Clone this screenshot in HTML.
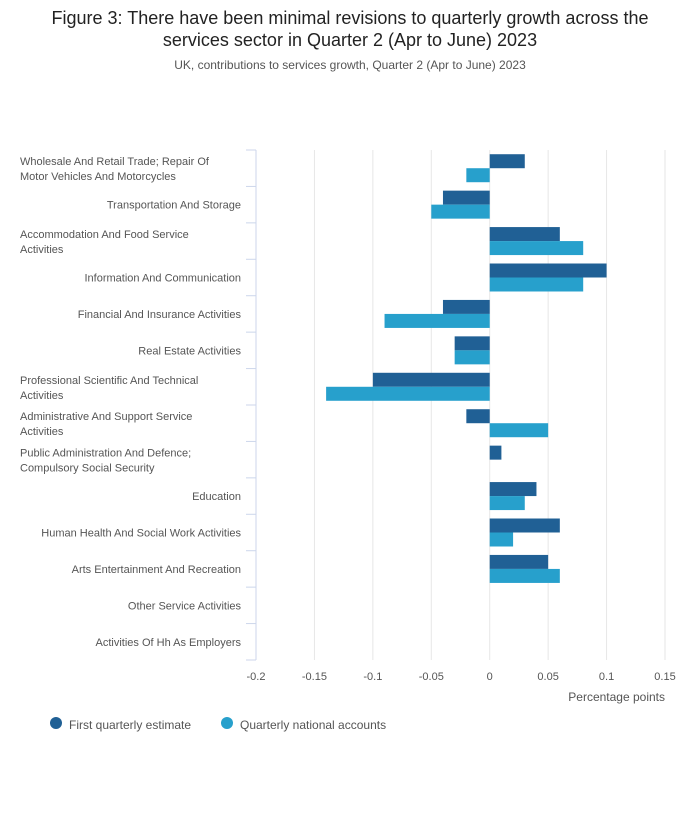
<!DOCTYPE html>
<html><head><meta charset="utf-8"><style>
body{margin:0;background:#fff;font-family:"Liberation Sans",sans-serif;}
</style></head><body>
<svg width="700" height="810" xmlns="http://www.w3.org/2000/svg" font-family="Liberation Sans, sans-serif">
<text x="350" y="24" text-anchor="middle" font-size="18" fill="#222">Figure 3: There have been minimal revisions to quarterly growth across the</text>
<text x="350" y="46" text-anchor="middle" font-size="18" fill="#222">services sector in Quarter 2 (Apr to June) 2023</text>
<text x="350" y="69" text-anchor="middle" font-size="12" fill="#555">UK, contributions to services growth, Quarter 2 (Apr to June) 2023</text>
<g id="grid"></g><g id="bars"></g><g id="labels"></g>
<text x="665" y="701" text-anchor="end" font-size="12" fill="#555">Percentage points</text>
<g><circle cx="56" cy="723" r="6" fill="#206095"/><text x="69" y="729" font-size="12" fill="#555">First quarterly estimate</text></g>
<g><circle cx="227" cy="723" r="6" fill="#27a0cc"/><text x="240" y="729" font-size="12" fill="#555">Quarterly national accounts</text></g>
</svg>
<script>
const categories=[["Wholesale And Retail Trade; Repair Of","Motor Vehicles And Motorcycles"],["Transportation And Storage"],["Accommodation And Food Service","Activities"],["Information And Communication"],["Financial And Insurance Activities"],["Real Estate Activities"],["Professional Scientific And Technical","Activities"],["Administrative And Support Service","Activities"],["Public Administration And Defence;","Compulsory Social Security"],["Education"],["Human Health And Social Work Activities"],["Arts Entertainment And Recreation"],["Other Service Activities"],["Activities Of Hh As Employers"]];
const firstEstimate=[0.03,-0.04,0.06,0.1,-0.04,-0.03,-0.1,-0.02,0.01,0.04,0.06,0.05,0,0];
const qnaEstimate=[-0.02,-0.05,0.08,0.08,-0.09,-0.03,-0.14,0.05,0,0.03,0.02,0.06,0,0];
const xTicks=[-0.2,-0.15,-0.1,-0.05,0,0.05,0.1,0.15];
const xTickLabels=["-0.2","-0.15","-0.1","-0.05","0","0.05","0.1","0.15"];
const NS="http://www.w3.org/2000/svg";
const x0=256,x1=665,y0=150,y1=660,xmin=-0.2,xmax=0.15;
const X=v=>x0+(v-xmin)/(xmax-xmin)*(x1-x0);
const band=(y1-y0)/categories.length;
function mk(t,a,p){const e=document.createElementNS(NS,t);for(const k in a)e.setAttribute(k,a[k]);p.appendChild(e);return e;}
const G=document.getElementById('grid'),B=document.getElementById('bars'),L=document.getElementById('labels');
xTicks.forEach((v,i)=>{
 if(i>0){const l=mk('line',{x1:X(v),x2:X(v),y1:y0,y2:y1,stroke:'#e6e6e6'},G);
 
 }
 const t=mk('text',{x:X(v),y:y1+20,'text-anchor':'middle','font-size':11,fill:'#555'},G);t.textContent=xTickLabels[i];
 
 
});
const ax=mk('line',{x1:x0,x2:x0,y1:y0,y2:y1,stroke:'#ccd6eb'},G);


for(let i=0;i<=categories.length;i++){mk('line',{x1:x0-10,x2:x0,y1:y0+i*band,y2:y0+i*band,stroke:'#ccd6eb'},G);}
categories.forEach((c,i)=>{
 const cy=y0+band*(i+0.5);
 [[firstEstimate,'#206095',-1],[qnaEstimate,'#27a0cc',0]].forEach(([arr,col,off])=>{
  const v=arr[i];const a=X(Math.min(0,v)),b=X(Math.max(0,v));
  const r=mk('rect',{x:a,y:cy+off*14,width:Math.max(0,b-a),height:14,fill:col},B);
  
  
 });
 if(c.length===1){const t=mk('text',{x:241,y:cy+4,'text-anchor':'end','font-size':11,fill:'#555'},L);t.textContent=c[0];
  
  }
 else c.forEach((s,j)=>{const t=mk('text',{x:20,y:cy-3+j*15,'font-size':11,fill:'#555'},L);t.textContent=s;
  
  });
});
</script>
</body></html>
